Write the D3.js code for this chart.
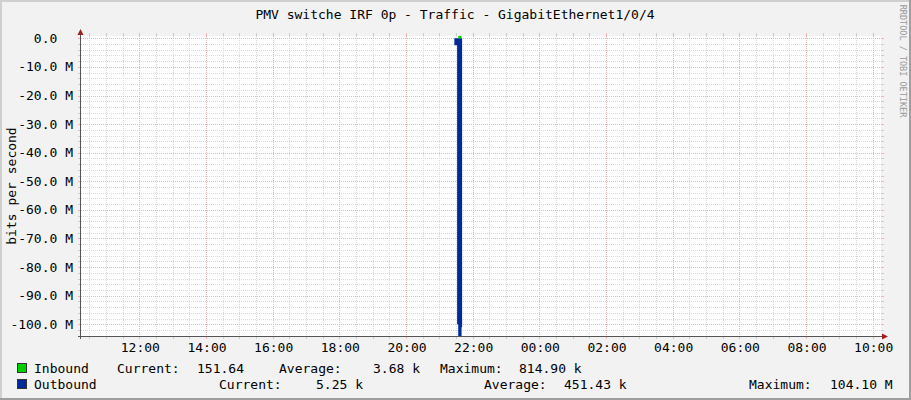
<!DOCTYPE html>
<html>
<head>
<meta charset="utf-8">
<script src="https://cdn.jsdelivr.net/npm/d3@7"></script>
<style>
  body { margin: 0; background: #fff; }
  text { font-family: "DejaVu Sans Mono", monospace; white-space: pre; }
</style>
</head>
<body>
<svg width="911" height="400"></svg>
<script>
// graph window: 24 hours
const windowStart = '2021-06-01 10:15';
const windowEnd = '2021-06-02 10:15';

// Inbound (bits/s, drawn upward)
const inTimes = ['2021-06-01 21:34', '2021-06-01 21:40'];
const inValues = [814900, 151.64];

// Outbound (bits/s, drawn downward)
const outTimes = ['2021-06-01 21:27', '2021-06-01 21:32', '2021-06-01 21:34', '2021-06-01 21:40', '2021-06-01 21:41'];
const outValues = [-2.4e6, -100e6, -104.1e6, -101e6, 0];

const yTickValues = [0, -10e6, -20e6, -30e6, -40e6, -50e6, -60e6, -70e6, -80e6, -90e6, -100e6];
const yTickLabels = ['0.0  ', '-10.0 M', '-20.0 M', '-30.0 M', '-40.0 M', '-50.0 M', '-60.0 M', '-70.0 M', '-80.0 M', '-90.0 M', '-100.0 M'];

const seriesNames = ['Inbound', 'Outbound'];
const seriesColors = ['#00CF00', '#002A97'];
const currentLabels = ['151.64', '5.25 k'];
const averageLabels = ['3.68 k', '451.43 k'];
const maximumLabels = ['814.90 k', '104.10 M'];

const title = 'PMV switche IRF 0p - Traffic - GigabitEthernet1/0/4';
const yTitle = 'bits per second';
const watermark = 'RRDTOOL / TOBI OETIKER';

const parse = d3.timeParse('%Y-%m-%d %H:%M');
const svg = d3.select('svg');
const W = 911, H = 400;
const pl = 81, pr = 881, pt = 36, pb = 336;
const gridColor = '#D8D8D8', mgridColor = '#F4B2B2';

// background + 3d frame
svg.append('rect').attr('width', W).attr('height', H).attr('fill', '#F2F2F2');
svg.append('path').attr('d', `M0,0H${W}V2H2V${H}H0Z`).attr('fill', '#CFCFCF');
svg.append('path').attr('d', `M${W},${H}H0V${H - 2}H${W - 2}V0H${W}Z`).attr('fill', '#9E9E9E');
svg.append('rect').attr('x', pl).attr('y', pt).attr('width', pr - pl).attr('height', pb - pt).attr('fill', '#fff');

const x = d3.scaleTime().domain([parse(windowStart), parse(windowEnd)]).range([pl, pr]);
const y = d3.scaleLinear().domain([-104.1e6, 814900]).range([pb, pt]);

const grid = svg.append('g').attr('shape-rendering', 'crispEdges');
const minorX = x.ticks(d3.timeMinute.every(30));
const majorX = x.ticks(d3.timeHour.every(2));
const minorY = d3.range(0, -104.1e6, -2e6);
const px = v => Math.round(v) + 0.5;

grid.selectAll('.vmin').data(minorX).join('line')
  .attr('x1', d => px(x(d))).attr('x2', d => px(x(d)))
  .attr('y1', pt).attr('y2', pb)
  .attr('stroke', gridColor).attr('stroke-dasharray', '1,1');
grid.selectAll('.hmin').data(minorY).join('line')
  .attr('y1', d => px(y(d))).attr('y2', d => px(y(d)))
  .attr('x1', pl).attr('x2', pr)
  .attr('stroke', gridColor).attr('stroke-dasharray', '1,1');
grid.selectAll('.vmaj').data(majorX).join('line')
  .attr('x1', d => px(x(d))).attr('x2', d => px(x(d)))
  .attr('y1', pt).attr('y2', pb)
  .attr('stroke', mgridColor).attr('stroke-dasharray', '1,1');
grid.selectAll('.hmaj').data(yTickValues).join('line')
  .attr('y1', d => px(y(d))).attr('y2', d => px(y(d)))
  .attr('x1', pl).attr('x2', pr)
  .attr('stroke', mgridColor).attr('stroke-dasharray', '1,1');

// small ticks outside the canvas
grid.selectAll('.vt').data(minorX).join('path')
  .attr('d', d => `M${px(x(d))},${pt - 3}V${pt}M${px(x(d))},${pb}V${pb + 3}`)
  .attr('stroke', d => majorX.some(m => +m === +d) ? mgridColor : '#CCCCCC');
grid.selectAll('.ht').data(minorY).join('path')
  .attr('d', d => `M${pl - 3},${px(y(d))}H${pl}M${pr},${px(y(d))}H${pr + 3}`)
  .attr('stroke', d => yTickValues.includes(d) ? mgridColor : '#CCCCCC');

// data
const area = d3.area().curve(d3.curveStepAfter)
  .x(d => x(d.t)).y0(y(0)).y1(d => y(d.v));
const inData = inTimes.map((t, i) => ({ t: parse(t), v: inValues[i] }));
const outData = outTimes.map((t, i) => ({ t: parse(t), v: outValues[i] }));
svg.append('path').datum(outData).attr('d', area).attr('fill', seriesColors[1]);
svg.append('path').datum(inData).attr('d', area).attr('fill', seriesColors[0]);

// axes
const ax = svg.append('g').attr('shape-rendering', 'crispEdges');
ax.append('line').attr('x1', pl - 0.5).attr('x2', pl - 0.5).attr('y1', pt - 2).attr('y2', pb + 3).attr('stroke', '#555');
ax.append('line').attr('x1', pl - 3).attr('x2', pr + 3).attr('y1', pb + 0.5).attr('y2', pb + 0.5).attr('stroke', '#555');
svg.append('path').attr('d', `M${pl - 3.5},${pt - 1}L${pl - 0.5},${pt - 7}L${pl + 2.5},${pt - 1}Z`).attr('fill', '#A01E1E');
svg.append('path').attr('d', `M${pr + 1},${pb - 2.5}L${pr + 7},${pb + 0.5}L${pr + 1},${pb + 3.5}Z`).attr('fill', '#A01E1E');

// axis labels
svg.selectAll('.yl').data(yTickValues).join('text')
  .attr('x', 73).attr('y', d => y(d) + 4.5)
  .attr('text-anchor', 'end').attr('font-size', 13).attr('fill', '#000')
  .text((d, i) => yTickLabels[i]);
svg.selectAll('.xl').data(majorX).join('text')
  .attr('x', d => x(d) + 1).attr('y', 352)
  .attr('text-anchor', 'middle').attr('font-size', 13).attr('fill', '#000')
  .text(d3.timeFormat('%H:%M'));

svg.append('text').attr('x', 455).attr('y', 19).attr('text-anchor', 'middle')
  .attr('font-size', 13).attr('fill', '#000').text(title);
svg.append('text').attr('transform', 'translate(16,186) rotate(-90)').attr('text-anchor', 'middle')
  .attr('font-size', 13).attr('fill', '#000').text(yTitle);
svg.append('text').attr('transform', 'translate(900,61) rotate(90)').attr('text-anchor', 'middle')
  .attr('font-size', 8.5).attr('fill', '#999').text(watermark);

// legend
const rowY = [373, 389];
const legendPos = [
  { cur: 117, curV: 197, avg: 279, avgV: 373, max: 440, maxV: 519 },
  { cur: 219, curV: 316, avg: 484, avgV: 564, max: 749, maxV: 830 },
];
seriesNames.forEach((name, i) => {
  const g = svg.append('g').attr('font-size', 13).attr('fill', '#000');
  const p = legendPos[i];
  g.append('rect').attr('x', 17.5).attr('y', rowY[i] - 9.5).attr('width', 9).attr('height', 9)
    .attr('fill', seriesColors[i]).attr('stroke', '#333').attr('stroke-width', 1);
  g.append('text').attr('x', 34).attr('y', rowY[i]).text(name);
  g.append('text').attr('x', p.cur).attr('y', rowY[i]).text('Current:');
  g.append('text').attr('x', p.curV).attr('y', rowY[i]).text(currentLabels[i]);
  g.append('text').attr('x', p.avg).attr('y', rowY[i]).text('Average:');
  g.append('text').attr('x', p.avgV).attr('y', rowY[i]).text(averageLabels[i]);
  g.append('text').attr('x', p.max).attr('y', rowY[i]).text('Maximum:');
  g.append('text').attr('x', p.maxV).attr('y', rowY[i]).text(maximumLabels[i]);
});
</script>
</body>
</html>
